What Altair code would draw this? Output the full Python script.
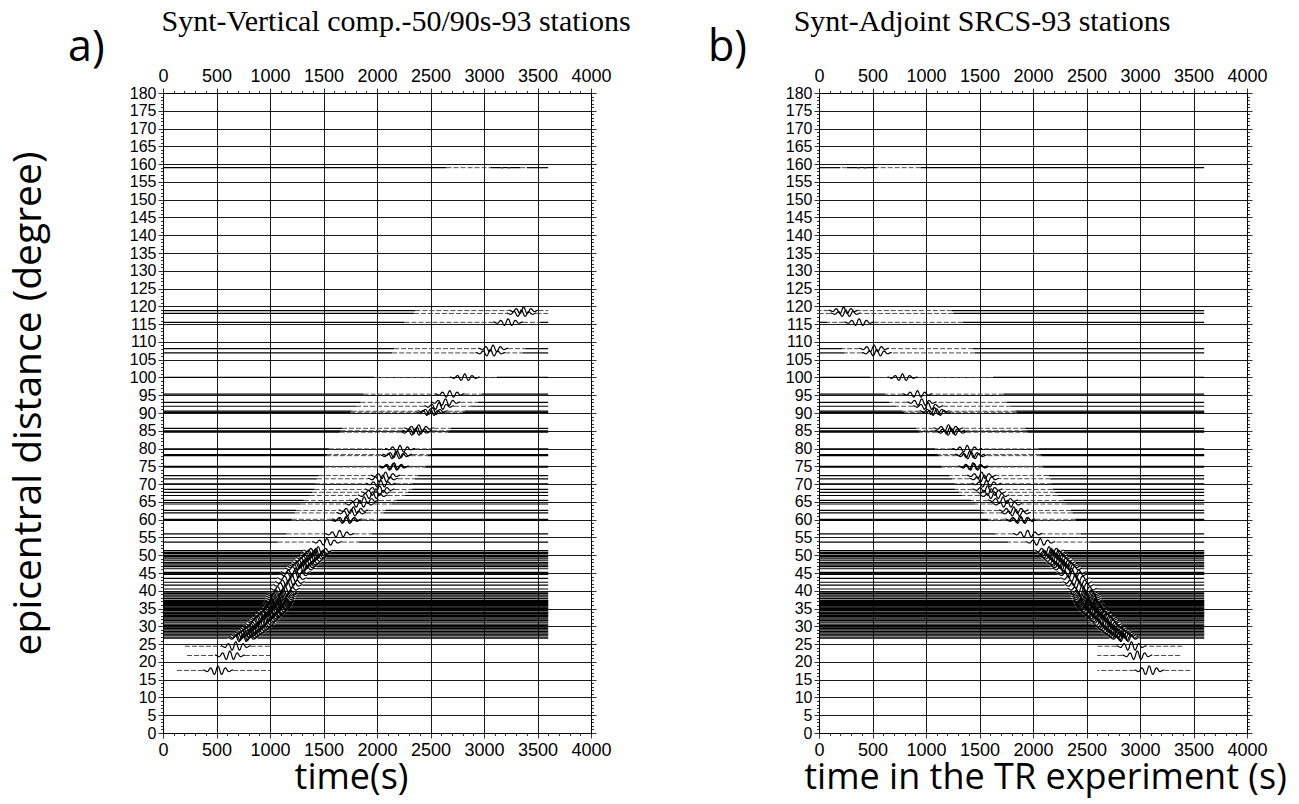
import altair as alt
import pandas as pd

# ---------------- data ----------------
# epicentral distance of each of the 93 stations (degrees)
dist = [17.6, 21.8, 24.4, 26.7, 27.0, 27.5, 27.8, 28.2, 28.6, 29.0,
        29.4, 29.8, 30.2, 30.6, 31.2, 31.6, 32.0, 32.4, 32.8, 33.0,
        33.2, 33.6, 33.8, 34.0, 34.4, 34.8, 35.0, 35.2, 35.5, 35.8,
        36.1, 36.4, 36.7, 36.9, 37.0, 37.3, 37.8, 38.3, 38.8, 39.2,
        39.6, 40.5, 41.6, 42.4, 43.5, 44.6, 45.2, 46.2, 46.8, 47.2,
        47.6, 48.0, 48.6, 49.2, 49.6, 50.0, 50.5, 50.8, 51.3, 53.7,
        56.0, 59.8, 60.1, 61.9, 62.6, 64.4, 65.4, 66.8, 67.7, 68.5,
        70.1, 71.5, 72.4, 74.8, 75.0, 78.0, 78.3, 79.9, 84.6, 85.0,
        85.7, 90.2, 90.5, 91.9, 93.0, 95.3, 100.0, 106.9, 108.1, 115.5,
        118.0, 118.8, 159.0]

# arrival time of the main wave packet in panel a (s)
arrival = [514, 625, 680, 745, 755, 770, 790, 810, 825, 845,
           860, 875, 890, 905, 920, 930, 945, 955, 970, 980,
           985, 1000, 1005, 1010, 1025, 1040, 1045, 1050, 1060, 1065,
           1070, 1075, 1080, 1083, 1085, 1088, 1095, 1100, 1105, 1115,
           1125, 1140, 1165, 1185, 1205, 1230, 1240, 1280, 1295, 1310,
           1320, 1340, 1360, 1380, 1395, 1410, 1420, 1430, 1450, 1532,
           1650, 1710, 1720, 1760, 1780, 1840, 1880, 1960, 1990, 2025,
           2035, 2055, 2080, 2150, 2160, 2175, 2190, 2215, 2360, 2375,
           2390, 2500, 2520, 2580, 2640, 2680, 2820, 3060, 3085, 3225,
           3350, 3370, 3200]

# wave packet amplitude (degrees)
amplitude = [1.3] * 3 + [1.15] * 56 + [1.0] * 33 + [0.05]

# start / end of each recorded trace (s)
trace_start = [130, 225, 205] + [0] * 90
trace_end = [1000, 1000, 1000] + [3600] * 90

# wavelet shape, one sample every 8.75 s from -140 s to +140 s
wavelet = [0.09, 0.08, 0.0, -0.14, -0.26, -0.23, 0.0, 0.33, 0.55, 0.45, 0.0,
           -0.56, -0.86, -0.65, 0.0, 0.70, 1.00, 0.70, 0.0, -0.65, -0.86, -0.56,
           0.0, 0.45, 0.55, 0.33, 0.0, -0.23, -0.26, -0.14, 0.0, 0.08, 0.09]
wav_step = 8.75
record_len = 3600

titles = {"a": "Synt-Vertical comp.-50/90s-93 stations",
          "b": "Synt-Adjoint SRCS-93 stations"}
xtitles = {"a": "time(s)", "b": "time in the TR experiment (s)"}

# ---------------- build tables ----------------
line_rows = []
gray_rows = []
half = (len(wavelet) - 1) // 2 * wav_step
for panel in ["a", "b"]:
    def tt(v):
        return v if panel == "a" else record_len - v
    for k, (d, ta, a, t0, t1) in enumerate(zip(dist, arrival, amplitude, trace_start, trace_end)):
        w0, w1 = ta - half, ta + half
        if t1 < record_len:            # short near-source records: low-level signal throughout
            gs, ge = t0, t1
        elif d > 52:                   # sparse records: low-level signal around the packet
            gs, ge = max(t0, int(0.7 * ta)), min(t1, ta + 300)
        else:                          # dense band: drawn as plain traces
            gs, ge = w0, w1
        if d > 150:
            gs, ge = 2650, 3400
        segs = []
        if gs > t0:
            segs.append([(t0, d), (gs, d)])
        segs.append([(w0 + j * wav_step, d + a * v) for j, v in enumerate(wavelet)])
        if ge < t1:
            segs.append([(ge, d), (t1, d)])
        for si, seg in enumerate(segs):
            for j, (t, y) in enumerate(seg):
                line_rows.append({"panel": panel, "seg": f"{k}_{si}", "i": j, "t": tt(t), "y": y})
        for (g0, g1) in [(gs, w0), (w1, ge)]:
            if g1 > g0:
                gray_rows.append({"panel": panel, "t0": tt(g0), "t1": tt(g1), "y": d})

df_lines = pd.DataFrame(line_rows)
df_gray = pd.DataFrame(gray_rows)

# ---------------- chart ----------------
xvals = list(range(0, 4001, 100))
yvals = list(range(0, 181, 1))
xs = alt.Scale(domain=[0, 4000], nice=False, zero=False)
ys = alt.Scale(domain=[0, 180], nice=False, zero=False)

XMAJ = "datum.value % 500 === 0"
YMAJ = "datum.value % 5 === 0"
TICK_FONT_X = "'Liberation Sans', Arial, sans-serif"
TICK_FONT_Y = "'Liberation Sans Narrow', 'Liberation Sans', Arial, sans-serif"
BIG_FONT = "'Open Sans', 'Noto Sans', sans-serif"


def xaxis(orient, title, grid, title_x=214):
    kw = dict(orient=orient, values=xvals, format="d",
              labelExpr=f"{XMAJ} ? datum.label : ''",
              tickSize={"condition": {"test": XMAJ, "value": 5}, "value": 2.5},
              tickColor="black", tickWidth=0.8,
              domainColor="black", domainWidth=1,
              labelFont=TICK_FONT_X, labelFontSize=18, labelColor="black",
              labelPadding=3, labelFlush=False, labelOverlap=False, labelBound=False,
              grid=grid)
    if grid:
        kw.update(gridColor="black", gridWidth=0.9,
                  gridOpacity={"condition": {"test": XMAJ, "value": 1}, "value": 0})
    if title:
        kw.update(title=title, titleFont=BIG_FONT, titleFontSize=36,
                  titleFontWeight="normal", titleColor="black", titlePadding=1,
                  titleX=title_x, titleAlign="center")
    else:
        kw.update(title=None)
    return alt.Axis(**kw)


def yaxis(orient, title, grid, labels):
    kw = dict(orient=orient, values=yvals, format="d",
              labelExpr=f"{YMAJ} ? datum.label : ''",
              tickSize={"condition": {"test": YMAJ, "value": 5}, "value": 2.5},
              tickColor="black", tickWidth=0.8,
              domainColor="black", domainWidth=1,
              labels=labels,
              grid=grid)
    if labels:
        kw.update(labelFont=TICK_FONT_Y, labelFontSize=16, labelColor="black",
                  labelPadding=2, labelOverlap=False, labelBound=False, labelFlush=False)
    if grid:
        kw.update(gridColor="black", gridWidth=0.9,
                  gridOpacity={"condition": {"test": YMAJ, "value": 1}, "value": 0})
    if title:
        kw.update(title=title, titleFont=BIG_FONT, titleFontSize=39,
                  titleFontWeight="normal", titleColor="black", titlePadding=81,
                  titleY=310)
    else:
        kw.update(title=None)
    return alt.Axis(**kw)


def panel(pid, letter_dx, title_x, xtitle_x):
    lines = df_lines[df_lines.panel == pid]
    gray = df_gray[df_gray.panel == pid]
    ytitle = "epicentral distance (degree)" if pid == "a" else None
    grey = alt.Chart(gray).mark_rule(color="#4a4a4a", strokeDash=[5, 2], strokeWidth=1).encode(
        x=alt.X("t0:Q", scale=xs, axis=xaxis("top", None, False)),
        x2="t1:Q",
        y=alt.Y("y:Q", scale=ys, axis=yaxis("right", None, False, False)),
    )
    black = alt.Chart(lines).mark_line(color="black", strokeWidth=1.2, interpolate="monotone").encode(
        x=alt.X("t:Q", scale=xs, axis=xaxis("bottom", xtitles[pid], True, xtitle_x)),
        y=alt.Y("y:Q", scale=ys, axis=yaxis("left", ytitle, True, True)),
        detail="seg:N",
        order="i:Q",
    )
    letter = alt.Chart(pd.DataFrame({"s": [pid + ")"]})).mark_text(
        font=BIG_FONT, fontSize=43, align="left", baseline="alphabetic", color="black"
    ).encode(text="s:N", x=alt.value(letter_dx), y=alt.value(-32))
    ttl = alt.Chart(pd.DataFrame({"s": [titles[pid]]})).mark_text(
        font="'Liberation Serif', 'Times New Roman', serif", fontSize=30,
        align="center", baseline="alphabetic", color="black"
    ).encode(text="s:N", x=alt.value(title_x), y=alt.value(-62))
    return alt.layer(black, grey, letter, ttl).resolve_axis(
        x="independent", y="independent"
    ).properties(width=428, height=640)


pa = panel("a", -95, 233, 188)
pb = panel("b", -111, 163, 226)

chart = alt.hconcat(pa, pb, spacing=75).properties(
    padding={"left": 8, "top": 6, "right": 0, "bottom": 3}
).configure_view(stroke=None).configure(background="white")

chart.save("out.html", embed_options={"renderer": "svg", "actions": False})
